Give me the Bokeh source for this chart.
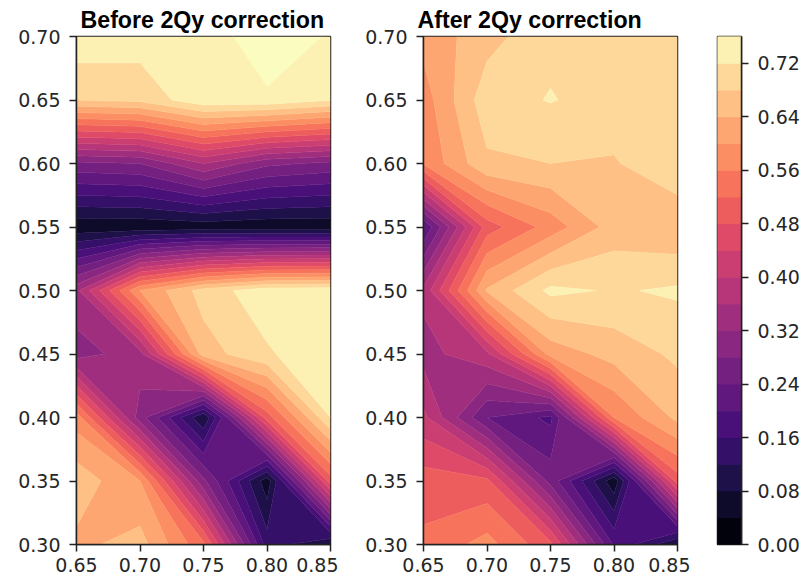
from bokeh.plotting import figure
from bokeh.layouts import row
from bokeh.models import Range1d, FixedTicker, Title, PrintfTickFormatter
from bokeh.palettes import Magma256
from bokeh.embed import file_html
from bokeh.resources import INLINE
import numpy as np

x_values = [0.65, 0.70, 0.75, 0.80, 0.85]
y_values = [0.30, 0.35, 0.40, 0.45, 0.50, 0.55, 0.60, 0.65, 0.70]

before = [
    [0.630, 0.656, 0.530, 0.140, 0.080],
    [0.665, 0.600, 0.290, 0.055, 0.500],
    [0.580, 0.300, 0.082, 0.500, 0.720],
    [0.300, 0.345, 0.660, 0.714, 0.755],
    [0.350, 0.600, 0.697, 0.746, 0.750],
    [0.050, 0.050, 0.055, 0.050, 0.050],
    [0.270, 0.280, 0.360, 0.290, 0.270],
    [0.680, 0.690, 0.750, 0.750, 0.722],
    [0.748, 0.741, 0.725, 0.800, 0.754],
]
after = [
    [0.529, 0.575, 0.490, 0.195, 0.080],
    [0.500, 0.490, 0.265, 0.052, 0.500],
    [0.410, 0.240, 0.190, 0.560, 0.650],
    [0.345, 0.390, 0.615, 0.655, 0.688],
    [0.370, 0.645, 0.730, 0.716, 0.726],
    [0.200, 0.500, 0.577, 0.658, 0.645],
    [0.565, 0.672, 0.680, 0.676, 0.714],
    [0.580, 0.705, 0.722, 0.705, 0.700],
    [0.613, 0.664, 0.711, 0.700, 0.700],
]
levels = [round(0.04 * i, 2) for i in range(20)]
over_level = 1.0
x_ticks = [0.65, 0.70, 0.75, 0.80, 0.85]
y_ticks = [0.30, 0.35, 0.40, 0.45, 0.50, 0.55, 0.60, 0.65, 0.70]
bar_ticks = [round(0.08 * i, 2) for i in range(10)]
titles = ["Before 2Qy correction", "After 2Qy correction"]

n_bands = len(levels) - 1
band_colors = [Magma256[min(255, int((i + 0.5) / n_bands * 256))] for i in range(n_bands)]
over_color = Magma256[-1]

TEXT = "#262626"
DARK = "#222222"
TICK_PX = "19px"


def style_axis(ax):
    ax.major_label_text_font = "DejaVu Sans"
    ax.major_label_text_font_size = TICK_PX
    ax.major_label_text_color = TEXT
    ax.major_tick_in = 0
    ax.major_tick_out = 7
    ax.minor_tick_in = 0
    ax.minor_tick_out = 0
    ax.major_tick_line_color = DARK
    ax.axis_line_color = DARK
    ax.major_tick_line_width = 1.5
    ax.axis_line_width = 1.5


def panel(z, title, title_offset, width, left, right):
    p = figure(width=width, height=577, output_backend="svg", toolbar_location=None,
               x_range=Range1d(x_values[0], x_values[-1]), y_range=Range1d(y_values[0], y_values[-1]),
               min_border_left=left, min_border_right=right, min_border_top=36, min_border_bottom=33)
    lv = levels + [over_level]
    p.contour(np.array(x_values), np.array(y_values), np.array(z), lv,
              fill_color=band_colors + [over_color],
              line_color=band_colors + [band_colors[-1], over_color], line_width=0.7)
    p.grid.visible = False
    p.outline_line_color = DARK
    p.outline_line_width = 1.5
    p.xaxis.ticker = FixedTicker(ticks=x_ticks)
    p.yaxis.ticker = FixedTicker(ticks=y_ticks)
    p.xaxis.formatter = PrintfTickFormatter(format="%.2f")
    p.yaxis.formatter = PrintfTickFormatter(format="%.2f")
    p.xaxis.major_label_standoff = 6
    p.yaxis.major_label_standoff = 9
    style_axis(p.xaxis[0])
    style_axis(p.yaxis[0])
    t = Title(text=title, text_font="Liberation Sans", text_font_style="bold",
              text_font_size="23.2px", text_color="#000000", align="left",
              offset=title_offset, standoff=8)
    p.title = t
    return p


p1 = panel(before, titles[0], 4, 338, 76, 8)
p2 = panel(after, titles[1], -6, 352, 85, 13)

p3 = figure(width=113, height=577, output_backend="svg", toolbar_location=None,
            x_range=Range1d(0, 1), y_range=Range1d(levels[0], levels[-1]),
            y_axis_location="right",
            min_border_left=27, min_border_right=62, min_border_top=36, min_border_bottom=33)
p3.quad(left=0, right=1, bottom=levels[:-1], top=levels[1:], fill_color=band_colors, line_color=band_colors)
p3.grid.visible = False
p3.xaxis.visible = False
p3.outline_line_color = DARK
p3.outline_line_width = 1.5
p3.yaxis.ticker = FixedTicker(ticks=bar_ticks)
p3.yaxis.formatter = PrintfTickFormatter(format="%.2f")
p3.yaxis.major_label_standoff = 9
style_axis(p3.yaxis[0])

layout = row(p1, p2, p3, spacing=0)
open("out.html", "w").write(file_html(layout, INLINE))
